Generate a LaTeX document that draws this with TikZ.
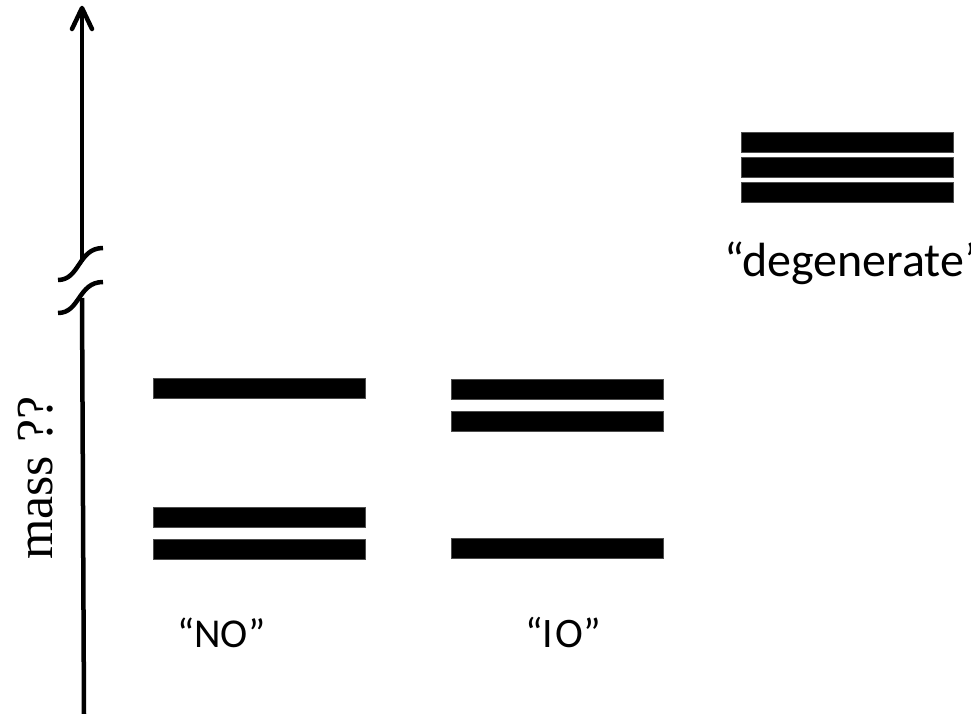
\documentclass[tikz,border=0pt]{standalone}
\usepackage{fontspec}
\setmainfont{Carlito}
\newfontfamily\timesf{Liberation Serif}
\begin{document}
\begin{tikzpicture}[x=1pt,y=-1pt,
  bar/.style={fill=black,draw=black!70,line width=0.4pt,inner sep=0pt,minimum width=212pt,minimum height=20pt},
  axisline/.style={line width=4.5pt,line cap=round},
  lbl/.style={font=\fontsize{42}{50}\selectfont,inner sep=0pt,anchor=base west}]
\useasboundingbox (0,0) rectangle (971,714);
% axis
\coordinate (top) at (82,8);
\coordinate (brkA) at (82,262);
\coordinate (brkB) at (82,298);
\coordinate (bot) at (84,714);
\draw[line width=4.5pt] (brkA) -- (top);
\draw[axisline,line join=round] (72,29) -- (top) -- (92,29);
\draw[line width=4.5pt] (58,280) .. controls (80,280) and (78,248) .. (103,248);
\draw[line width=4.5pt] (58,313) .. controls (80,313) and (78,282) .. (103,282);
\draw[line width=4.5pt] (brkB) -- (bot);
% NO
\node[bar] (no1) at (259,388) {};
\node[bar] (no2) at (259,517) {};
\node[bar] (no3) at (259,549) {};
% IO
\node[bar] (io1) at (557,389) {};
\node[bar] (io2) at (557,421) {};
\node[bar] (io3) at (557,548) {};
% degenerate
\node[bar] (dg1) at (847,142.5) {};
\node[bar] (dg2) at (847,167.5) {};
\node[bar] (dg3) at (847,192) {};
% labels
\node[lbl,font=\fontsize{41}{50}\selectfont] (tno) at (177,647) {“NO”};
\node[lbl] (tio) at (525,647) {“I\kern2ptO”};
\node[lbl,font=\fontsize{48}{56}\selectfont] (tdg) at (724,276) {“degenerate”};
\node[rotate=90,anchor=base west,inner sep=0pt,font=\timesf\fontsize{52}{60}\selectfont] (mass) at (52,560) {mass ??};
\end{tikzpicture}
\end{document}
